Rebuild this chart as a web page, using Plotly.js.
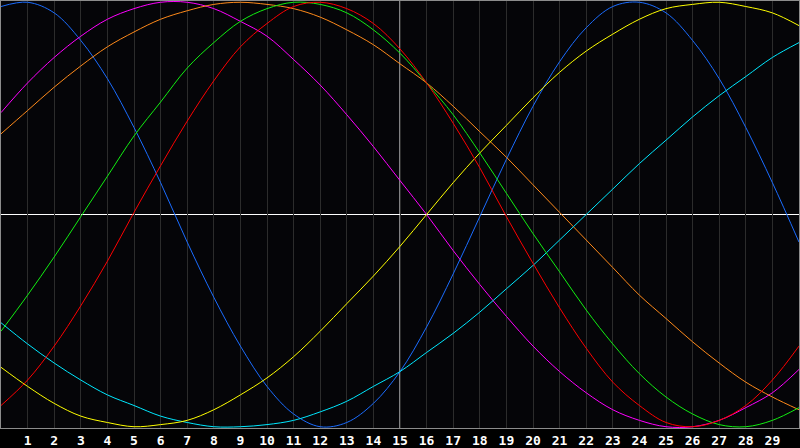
<!DOCTYPE html>
<html>
<head>
<meta charset="utf-8">
<script src="https://cdn.plot.ly/plotly-3.0.1.min.js"></script>
<style>
html,body{margin:0;padding:0;background:#000;}
#chart{width:800px;height:448px;}
</style>
</head>
<body>
<div id="chart"></div>
<script>
// Day positions (0..30) and tick labels
const days = [0,1,2,3,4,5,6,7,8,9,10,11,12,13,14,15,16,17,18,19,20,21,22,23,24,25,26,27,28,29,30];
const tickDays = [1,2,3,4,5,6,7,8,9,10,11,12,13,14,15,16,17,18,19,20,21,22,23,24,25,26,27,28,29];
const tickLabels = tickDays.map(String);
const today = 15;

// Curve values (-1 .. 1)
const blueVals    = [0.98,1.00,0.95,0.82,0.64,0.41,0.15,-0.13,-0.39,-0.62,-0.81,-0.94,-1.00,-0.98,-0.89,-0.74,-0.53,-0.28,-0.01,0.26,0.51,0.72,0.88,0.98,1.00,0.95,0.82,0.64,0.41,0.15,-0.13];
const redVals     = [-0.90,-0.78,-0.62,-0.43,-0.22,0.01,0.23,0.44,0.63,0.79,0.90,0.98,1.00,0.97,0.90,0.78,0.62,0.43,0.22,-0.01,-0.23,-0.44,-0.63,-0.79,-0.90,-0.98,-1.00,-0.97,-0.90,-0.78,-0.62];
const greenVals   = [-0.55,-0.38,-0.20,-0.01,0.18,0.37,0.53,0.69,0.81,0.91,0.97,1.00,0.99,0.95,0.87,0.76,0.62,0.47,0.29,0.10,-0.09,-0.27,-0.45,-0.61,-0.75,-0.86,-0.94,-0.99,-1.00,-0.97,-0.91];
const magentaVals = [0.48,0.62,0.74,0.84,0.92,0.97,1.00,1.00,0.97,0.91,0.84,0.73,0.61,0.47,0.32,0.16,0.00,-0.17,-0.33,-0.48,-0.62,-0.74,-0.84,-0.92,-0.97,-1.00,-1.00,-0.97,-0.91,-0.84,-0.73];
const yellowVals  = [-0.72,-0.81,-0.89,-0.95,-0.98,-1.00,-0.99,-0.97,-0.92,-0.85,-0.77,-0.67,-0.55,-0.42,-0.29,-0.15,0.00,0.15,0.29,0.42,0.55,0.67,0.77,0.85,0.92,0.97,0.99,1.00,0.98,0.95,0.89];
const orangeVals  = [0.38,0.49,0.60,0.70,0.79,0.86,0.92,0.96,0.99,1.00,0.99,0.97,0.93,0.87,0.80,0.71,0.62,0.51,0.39,0.27,0.14,0.01,-0.12,-0.25,-0.38,-0.49,-0.60,-0.70,-0.79,-0.86,-0.92];
const cyanVals    = [-0.51,-0.61,-0.70,-0.78,-0.85,-0.90,-0.95,-0.98,-1.00,-1.00,-0.99,-0.97,-0.93,-0.88,-0.81,-0.74,-0.65,-0.56,-0.46,-0.35,-0.24,-0.12,0.00,0.12,0.24,0.35,0.46,0.56,0.65,0.74,0.81];

const series = [
  {name:'Blue', vals: blueVals, color:'#1a6cff'},
  {name:'Magenta', vals: magentaVals, color:'#ff00ff'},
  {name:'Orange', vals: orangeVals, color:'#ff8a1a'},
  {name:'Cyan', vals: cyanVals, color:'#00e8ff'},
  {name:'Yellow', vals: yellowVals, color:'#ffff00'},
  {name:'Green', vals: greenVals, color:'#11ee11'},
  {name:'Red', vals: redVals, color:'#ff0000'}
];

const traces = series.map(s => ({
  x: days, y: s.vals, type:'scatter', mode:'lines', name:s.name,
  line:{color:s.color, width:1, shape:'spline', smoothing:1},
  hoverinfo:'skip'
}));

const layout = {
  width:800, height:448,
  margin:{l:1, r:1, t:1, b:20, pad:0},
  paper_bgcolor:'#000000',
  plot_bgcolor:'#050508',
  showlegend:false,
  xaxis:{
    range:[0,30], tickvals:tickDays, ticktext:tickLabels,
    showgrid:true, gridcolor:'#2c2c2c', gridwidth:1,
    zeroline:false, showline:true, mirror:true, linecolor:'#8c8c8c', linewidth:1,
    ticks:'', tickfont:{family:'DejaVu Sans Mono', size:13, color:'#ffffff', weight:'bold'},
    fixedrange:true
  },
  yaxis:{
    range:[-1.006,1.006], showgrid:false, zeroline:false, showticklabels:false,
    showline:true, mirror:true, linecolor:'#8c8c8c', linewidth:1, ticks:'', fixedrange:true
  },
  shapes:[
    {type:'line', xref:'x', yref:'paper', x0:today, x1:today, y0:0, y1:1, line:{color:'#ffffff', width:1}, layer:'between'},
    {type:'line', xref:'paper', yref:'y', x0:0, x1:1, y0:0, y1:0, line:{color:'#ffffff', width:1}, layer:'between'}
  ]
};

Plotly.newPlot('chart', traces, layout, {staticPlot:true, displayModeBar:false});
</script>
</body>
</html>
